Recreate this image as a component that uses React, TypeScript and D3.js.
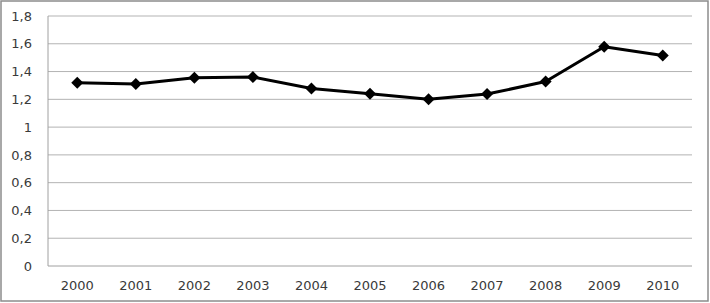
import React from "react";
import * as d3 from "d3";

const years = ["2000","2001","2002","2003","2004","2005","2006","2007","2008","2009","2010"];
const values = [1.32, 1.31, 1.355, 1.36, 1.278, 1.24, 1.2, 1.238, 1.328, 1.578, 1.515];
const yTicks = [0, 0.2, 0.4, 0.6, 0.8, 1, 1.2, 1.4, 1.6, 1.8];

const W = 710, H = 303;
const left = 48, right = 692, top = 16, bottom = 266;

export default function App() {
  const x = d3.scaleBand<string>().domain(years).range([left, right]);
  const y = d3.scaleLinear().domain([0, 1.8]).range([bottom, top]);
  const cx = (d: string) => (x(d) as number) + x.bandwidth() / 2;
  const line = d3.line<number>().x((_, i) => cx(years[i])).y((v) => y(v));
  const fmt = (v: number) => (v === 0 || v === 1 ? String(v) : v.toFixed(1).replace(".", ","));
  const r = 6;
  return (
    <svg width={W} height={H} style={{ position: "absolute", left: 0, top: 0, background: "#fff" }}
      fontFamily="'DejaVu Sans', sans-serif">
      <rect x={1} y={1} width={W - 3} height={H - 3} fill="#fff" stroke="#8c8c8c" strokeWidth={1.5} />
      {yTicks.map((t) => (
        <g key={t}>
          {t !== 0 && <line x1={left} x2={right} y1={y(t)} y2={y(t)} stroke="#b3b3b3" strokeWidth={1} />}
          <text x={32} y={y(t)} dy="0.36em" textAnchor="end" fontSize={13} fill="#3a3a3a">{fmt(t)}</text>
        </g>
      ))}
      <line x1={left} x2={left} y1={top} y2={bottom} stroke="#a0a0a0" strokeWidth={1} />
      <line x1={left} x2={right} y1={bottom} y2={bottom} stroke="#a0a0a0" strokeWidth={1} />
      {years.map((d) => (
        <text key={d} x={cx(d)} y={290} textAnchor="middle" fontSize={13} fill="#3a3a3a">{d}</text>
      ))}
      <path d={line(values) || ""} fill="none" stroke="#000" strokeWidth={3} strokeLinejoin="round" />
      {values.map((v, i) => {
        const px = cx(years[i]), py = y(v);
        return (
          <path key={i} d={`M${px},${py - r}L${px + r},${py}L${px},${py + r}L${px - r},${py}Z`} fill="#000" />
        );
      })}
    </svg>
  );
}
